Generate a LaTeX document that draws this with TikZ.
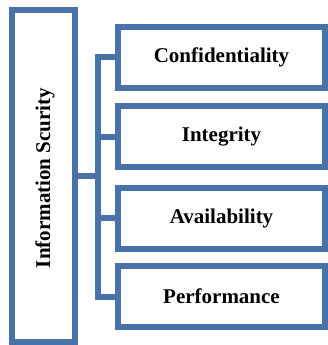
\documentclass[tikz,border=0pt]{standalone}
\usepackage{fontspec}
\setmainfont{Liberation Serif}
\definecolor{edge}{RGB}{72,114,168}
\begin{document}
\begin{tikzpicture}[x=1pt,y=-1pt,
  box/.style={draw=edge, line width=6pt, fill=white, inner sep=0pt,
    font=\fontsize{21}{25}\selectfont\bfseries},
  rbox/.style={box, minimum width=207pt, minimum height=61pt},
  conn/.style={draw=edge, line width=6pt}]
\useasboundingbox (0,0) rectangle (328,345);
\coordinate (bus) at (98,0);
\node[rbox] (C) at (221.5,57.5) {Confidentiality};
\node[rbox] (I) at (221.5,136.5) {Integrity};
\node[rbox] (A) at (221.5,218) {Availability};
\node[rbox] (P) at (221.5,296.5) {Performance};
\node[box, minimum width=63pt, minimum height=332pt] (L) at (43.5,176) {};
\node[font=\fontsize{21}{25}\selectfont\bfseries, rotate=90] (Lt) at (45,178) {Information Scurity};
\draw[conn] (C.west) -- (C.west -| bus) -- (P.west -| bus) -- (P.west);
\draw[conn] (I.west -| bus) -- (I.west);
\draw[conn] (A.west -| bus) -- (A.west);
\draw[conn] (L.east) -- (L.east -| bus);
\end{tikzpicture}
\end{document}
